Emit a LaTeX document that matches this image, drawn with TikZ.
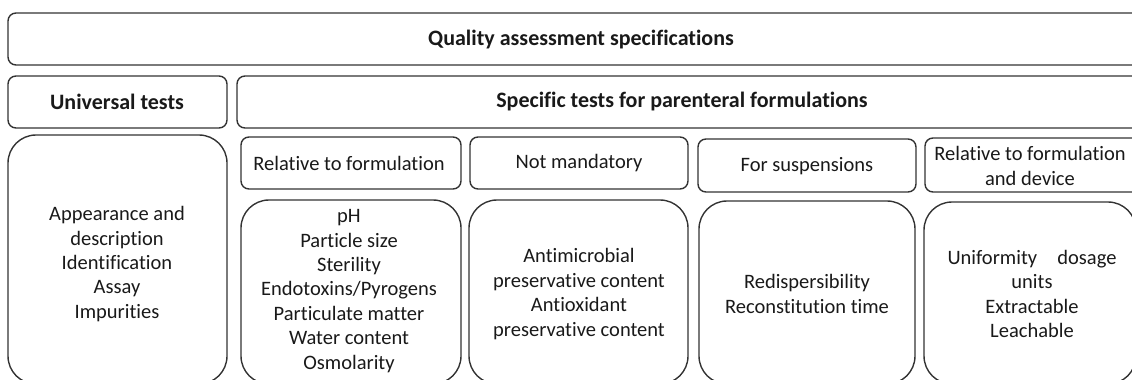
\documentclass[tikz,border=0pt]{standalone}
\usepackage{fontspec}
\setmainfont{Carlito}[Ligatures={NoCommon, NoRare, NoContextual}]

\begin{document}
\begin{tikzpicture}[x=1pt, y=-1pt,
    frame/.style={draw=black!80, line width=1.4pt, rounded corners=8pt},
    panel/.style={draw=black!80, line width=1.4pt, rounded corners=28pt},
    head/.style={font=\fontsize{22}{26}\selectfont\bfseries, text=black!90, inner sep=0pt},
    label/.style={font=\fontsize{20.5}{24.4}\selectfont, align=center, text=black!90, inner sep=0pt}]
\useasboundingbox (0, 0) rectangle (1132, 380);
\clip (0, 0) rectangle (1132, 380);

% header rows
\draw[frame] (8, 13) rectangle (1160, 65);
\draw[frame] (8, 76) rectangle (227, 128);
\draw[frame] (237, 76) rectangle (1160, 128);

% category boxes
\draw[frame] (241, 137) rectangle (461, 189);
\draw[frame] (470, 137) rectangle (688, 189);
\draw[frame] (698, 139) rectangle (916, 192);
\draw[frame] (925, 138) rectangle (1160, 192);

% test lists
\draw[panel] (8, 135) rectangle (227, 384);
\draw[panel] (241, 200) rectangle (461, 384);
\draw[panel] (469, 200) rectangle (688, 384);
\draw[panel] (699, 201) rectangle (915, 384);
\draw[panel] (924, 202) rectangle (1136, 384);

\node[head] (quality) at (581, 40) {Quality assessment specifications};
\node[head] (universal) at (117, 102) {Universal tests};
\node[head] (specific) at (682, 102) {Specific tests for parenteral formulations};

\node[label] (relform) at (349, 163) {Relative to formulation};
\node[label] (notmand) at (579, 163) {Not mandatory};
\node[label] (suspens) at (807, 166) {For suspensions};
\node[label] (reldevice) at (1030, 166) {Relative to formulation\\and device};

\node[label] (univlist) at (117, 264) {Appearance and\\description\\Identification\\Assay\\Impurities};
\node[label] (formlist) at (349, 291) {pH\\Particle size\\Sterility\\Endotoxins/Pyrogens\\Particulate matter\\Water content\\Osmolarity};
\node[label] (optlist) at (579, 294) {Antimicrobial\\preservative content\\Antioxidant\\preservative content};
\node[label] (susplist) at (807, 294) {Redispersibility\\Reconstitution time};
\node[label] (devlist) at (1032, 294) {\makebox[169pt]{Uniformity\hfill dosage}\\units\\Extractable\\Leachable};
\end{tikzpicture}
\end{document}
